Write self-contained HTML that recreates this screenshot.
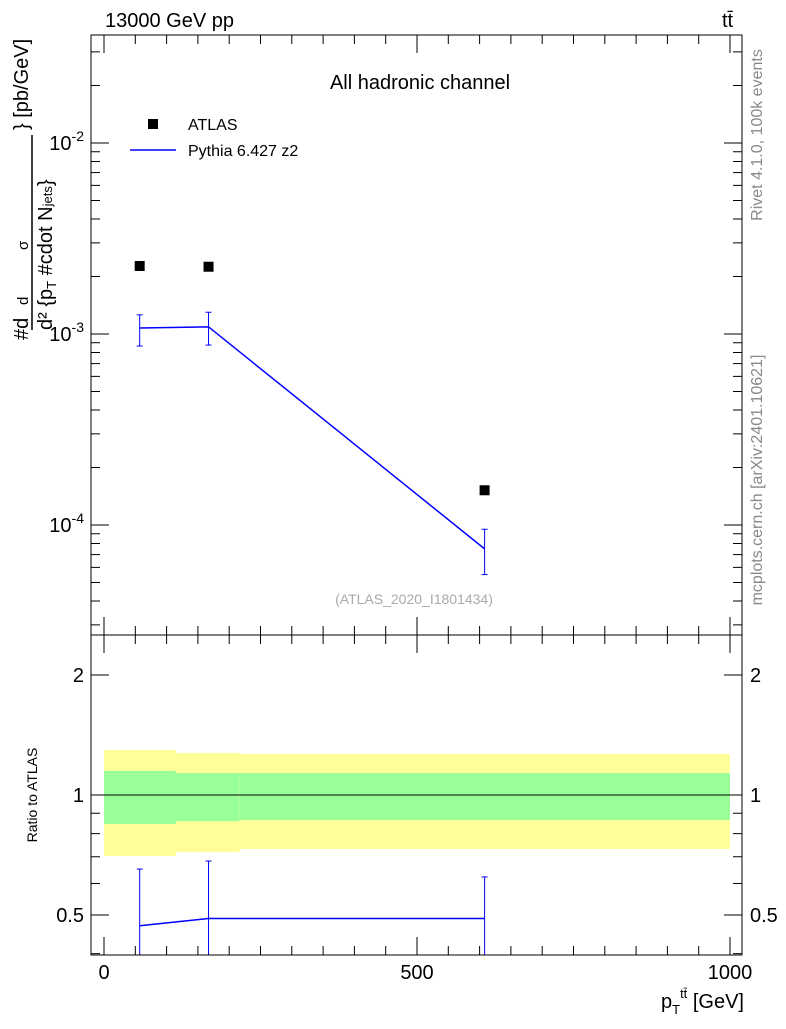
<!DOCTYPE html>
<html><head><meta charset="utf-8"><style>
body{margin:0;background:#fff;}
svg{font-family:"Liberation Sans",sans-serif;}
</style></head><body>
<svg id="c" width="786" height="1024" xmlns="http://www.w3.org/2000/svg">
<text x="105" y="27" font-size="20">13000 GeV pp</text>
<text x="722" y="27" font-size="20">tt̄</text>
<text x="420" y="89" font-size="20" text-anchor="middle">All hadronic channel</text>
<text transform="translate(762,135) rotate(-90)" font-size="16" fill="#888" text-anchor="middle">Rivet 4.1.0,  100k events</text>
<text transform="translate(762,480) rotate(-90)" font-size="16" fill="#888" text-anchor="middle">mcplots.cern.ch [arXiv:2401.10621]</text>
<text x="414" y="604" font-size="14" fill="#aaa" text-anchor="middle">(ATLAS_2020_I1801434)</text>
<g font-size="20">
<text transform="translate(28,340) rotate(-90)">#d</text>
<text transform="translate(28,305) rotate(-90)" font-size="15">d</text>
<text transform="translate(28,250) rotate(-90)" font-size="15">σ</text>
<line x1="32" y1="330" x2="32" y2="135" stroke="#000" stroke-width="1.5"/>
<text transform="translate(52,330) rotate(-90)">d² {p<tspan font-size="13" dy="4">T</tspan><tspan dy="-4"> #cdot N</tspan><tspan font-size="13">jets</tspan>} </text>
<text transform="translate(28,130) rotate(-90)">} [pb/GeV]</text>
</g>
<text transform="translate(37,795) rotate(-90)" font-size="14" text-anchor="middle">Ratio to ATLAS</text>
<text x="744" y="1008" font-size="20" text-anchor="end">p<tspan font-size="13" dy="6">T</tspan><tspan font-size="13" dy="-16">tt̄</tspan><tspan dy="10"> [GeV]</tspan></text>
<g id="g"></g>
</svg>
<script>
const xs=[57,167,608];
const atlas=[2.27e-3,2.25e-3,1.52e-4];
const pyth=[1.075e-3,1.09e-3,7.5e-5];
const pythUp=[1.26e-3,1.3e-3,9.5e-5];
const pythDn=[0.865e-3,0.875e-3,5.5e-5];
const ratio=[0.47,0.49,0.49];
const ratioUp=[0.652,0.683,0.623];
const ratioDn=[0.3,0.3,0.3];
const binEdges=[0,115,217,1000];
const yelUp=[1.297,1.274,1.267],yelDn=[0.703,0.719,0.732];
const grnUp=[1.149,1.135,1.135],grnDn=[0.846,0.86,0.866];
const NS="http://www.w3.org/2000/svg";
const g=document.getElementById('g');
const X=v=>104+v*0.626;
const Y=v=>334-(Math.log10(v)+3)*191;
const R=v=>795-Math.log10(v)*398.7;
function mk(t,a,p){const e=document.createElementNS(NS,t);for(const k in a)e.setAttribute(k,a[k]);(p||g).appendChild(e);return e;}
const d=mk('defs',{});const cp=mk('clipPath',{id:'rc'},d);mk('rect',{x:91,y:635,width:651,height:320},cp);
const rg=mk('g',{'clip-path':'url(#rc)'});


for(let i=0;i<3;i++){
 const y=mk('rect',{x:X(binEdges[i]),y:R(yelUp[i]),width:X(binEdges[i+1])-X(binEdges[i]),height:R(yelDn[i])-R(yelUp[i]),fill:'#ffff99'},rg);
 
 
 const gr=mk('rect',{x:X(binEdges[i]),y:R(grnUp[i]),width:X(binEdges[i+1])-X(binEdges[i]),height:R(grnDn[i])-R(grnUp[i]),fill:'#99ff99'},rg);
 
 
}
mk('line',{x1:91,x2:742,y1:R(1),y2:R(1),stroke:'#000'},rg);
let pr='';
for(let i=0;i<3;i++){pr+=(i?'L':'M')+X(xs[i])+','+R(ratio[i]);
 const e=mk('line',{x1:X(xs[i]),x2:X(xs[i]),y1:R(ratioUp[i]),y2:R(ratioDn[i]),stroke:'#00f'},rg);
 
 
 mk('line',{x1:X(xs[i])-3,x2:X(xs[i])+3,y1:R(ratioUp[i]),y2:R(ratioUp[i]),stroke:'#00f'},rg);
}
const rl=mk('path',{d:pr,fill:'none',stroke:'#00f','stroke-width':1.5},rg);


let pp='';
for(let i=0;i<3;i++){
 pp+=(i?'L':'M')+X(xs[i])+','+Y(pyth[i]);
 const e=mk('line',{x1:X(xs[i]),x2:X(xs[i]),y1:Y(pythUp[i]),y2:Y(pythDn[i]),stroke:'#00f'});
 
 
 mk('line',{x1:X(xs[i])-3,x2:X(xs[i])+3,y1:Y(pythUp[i]),y2:Y(pythUp[i]),stroke:'#00f'});
 mk('line',{x1:X(xs[i])-3,x2:X(xs[i])+3,y1:Y(pythDn[i]),y2:Y(pythDn[i]),stroke:'#00f'});
 const a=mk('rect',{x:X(xs[i])-5,y:Y(atlas[i])-5,width:10,height:10,fill:'#000'});
 
 
}
const pl=mk('path',{d:pp,fill:'none',stroke:'#00f','stroke-width':1.5});


mk('rect',{x:91,y:35,width:651,height:600,fill:'none',stroke:'#000'});
mk('rect',{x:91,y:635,width:651,height:320,fill:'none',stroke:'#000'});
for(let e=-5;e<=-1;e++)for(let m=1;m<10;m++){const v=m*Math.pow(10,e);const y=Y(v);if(y<35||y>635)continue;const L=m==1?18:9;
 mk('line',{x1:91,x2:91+L,y1:y,y2:y,stroke:'#000'});mk('line',{x1:742,x2:742-L,y1:y,y2:y,stroke:'#000'});
 if(m==1){const t=mk('text',{x:84,y:y+7,'font-size':20,'text-anchor':'end'});t.innerHTML='10<tspan font-size="14" dy="-9">'+e+'</tspan>';
 }}
[0.4,0.5,0.6,0.7,0.8,0.9,1,2].forEach(v=>{const y=R(v);const L=(v==0.5||v==1||v==2)?18:9;
 mk('line',{x1:91,x2:91+L,y1:y,y2:y,stroke:'#000'});mk('line',{x1:742,x2:742-L,y1:y,y2:y,stroke:'#000'});
 if(L==18){const t1=mk('text',{x:84,y:y+7,'font-size':20,'text-anchor':'end'});t1.textContent=v;
 
 const t2=mk('text',{x:750,y:y+7,'font-size':20});t2.textContent=v;
 }});
for(let v=0;v<=1000;v+=50){const x=X(v);const L=v%500==0?18:9;
 mk('line',{x1:x,x2:x,y1:955,y2:955-L,stroke:'#000'});mk('line',{x1:x,x2:x,y1:635,y2:635+L,stroke:'#000'});
 mk('line',{x1:x,x2:x,y1:635,y2:635-L,stroke:'#000'});mk('line',{x1:x,x2:x,y1:35,y2:35+L,stroke:'#000'});
 if(v%500==0){const t=mk('text',{x:x,y:979,'font-size':20,'text-anchor':'middle'});t.textContent=v;
 }}
const lg=mk('g',{});


mk('rect',{x:148,y:119,width:10,height:10,fill:'#000'},lg);
mk('text',{x:188,y:130,'font-size':16},lg).textContent='ATLAS';
mk('line',{x1:130,x2:176,y1:150,y2:150,stroke:'#00f','stroke-width':1.5},lg);
mk('text',{x:188,y:156,'font-size':16},lg).textContent='Pythia 6.427 z2';
</script>
</body></html>
